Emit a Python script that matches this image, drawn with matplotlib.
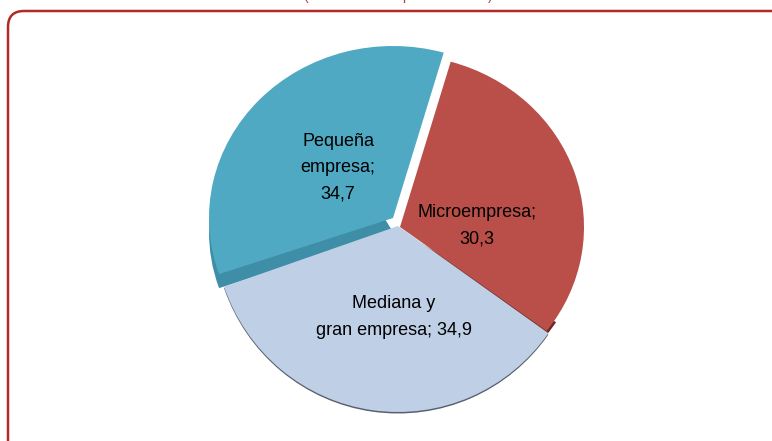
import matplotlib
matplotlib.use("Agg")
import matplotlib.pyplot as plt
from matplotlib.patches import FancyBboxPatch

# Share of each company size, clockwise from the top
categories = ["Microempresa", "Mediana y gran empresa", "Pequeña empresa"]
values = [30.3, 34.9, 34.7]
value_labels = ["30,3", "34,9", "34,7"]

top_colors = ["#b94f48", "#bfcfe6", "#4fa9c3"]
side_colors = ["#6b2a27", "#56606e", "#3d8ea6"]

W, H = 772, 441
RX, RY = 184.0, 172.0
LOW_RY = 186.0
CENTER = (398.0, 229.0)
LOW_CENTER = (398.0, 226.0)

# top surface position and visible depth of the upper slices, in pixels
slice_centers = {0: (400.0, 227.0), 2: (393.0, 218.0)}
slice_depths = {0: 4.0, 2: 14.0}
# side faces only show near the lower cut edge
side_limits = {0: ("theta2", -32), 2: ("theta1", -240)}


def make_pie_axes(center, ry, start):
    pie_ax = fig.add_axes([0, 0, 1, 1], facecolor="none")
    sides, _ = pie_ax.pie(values, colors=side_colors, startangle=start, counterclock=False)
    tops, _ = pie_ax.pie(values, colors=top_colors, startangle=start, counterclock=False)
    pie_ax.set_aspect("auto")
    pie_ax.set_xlim(-center[0] / RX, (W - center[0]) / RX)
    pie_ax.set_ylim(-(H - center[1]) / ry, center[1] / ry)
    pie_ax.axis("off")
    return pie_ax, sides, tops


fig = plt.figure(figsize=(W / 100, H / 100), dpi=100)
plt.rcParams["font.family"] = ["Liberation Sans", "DejaVu Sans"]

# upper slices
ax, side_wedges, top_wedges = make_pie_axes(CENTER, RY, 74)
side_wedges[1].set_visible(False)
top_wedges[1].set_visible(False)
for i, (cx, cy) in slice_centers.items():
    dx = (cx - CENTER[0]) / RX
    dy = (CENTER[1] - cy) / RY
    side_wedges[i].set_center((dx, dy - slice_depths[i] / RY))
    getattr(side_wedges[i], "set_" + side_limits[i][0])(side_limits[i][1])
    top_wedges[i].set_center((dx, dy))
side_wedges[0].set_zorder(3)
top_wedges[0].set_zorder(4)
# the red slice reaches down to the lower slice at the right corner
top_wedges[0].set_theta1(top_wedges[0].theta1 - 2)
side_wedges[0].set_theta1(side_wedges[0].theta1 - 2)

# lower slice sits in front, its rim takes the depth of the pie
low_ax, low_sides, low_tops = make_pie_axes(LOW_CENTER, LOW_RY, 74)
for i in (0, 2):
    low_sides[i].set_visible(False)
    low_tops[i].set_visible(False)
low_sides[1].set_center((0, -1.5 / LOW_RY))

# overlay in pixel coordinates for the frame and the texts
over = fig.add_axes([0, 0, 1, 1], facecolor="none")
over.set_xlim(0, W)
over.set_ylim(H, 0)
over.axis("off")

frame = FancyBboxPatch((8, 11), 800, 450, boxstyle="round,pad=0,rounding_size=16",
                       fc="none", ec="#b02a2a", lw=1.8, clip_on=True)
over.add_patch(frame)

# bottom of the subtitle line, cut off by the page edge
for x, s in [(305, "("), (406, "p"), (490, ")")]:
    over.text(x, 0, s, color="#b5403f", fontsize=10, ha="center", va="baseline")

txt = dict(color="#000000", fontsize=13, ha="center", va="center",
           multialignment="center", linespacing=1.7)
over.text(338, 168, "Pequeña\nempresa;\n" + value_labels[2], **txt)
over.text(477, 226, "Microempresa;\n" + value_labels[0], **txt)
over.text(394, 317, "Mediana y\ngran empresa; " + value_labels[1], **txt)

fig.savefig("out.png", dpi=100)
